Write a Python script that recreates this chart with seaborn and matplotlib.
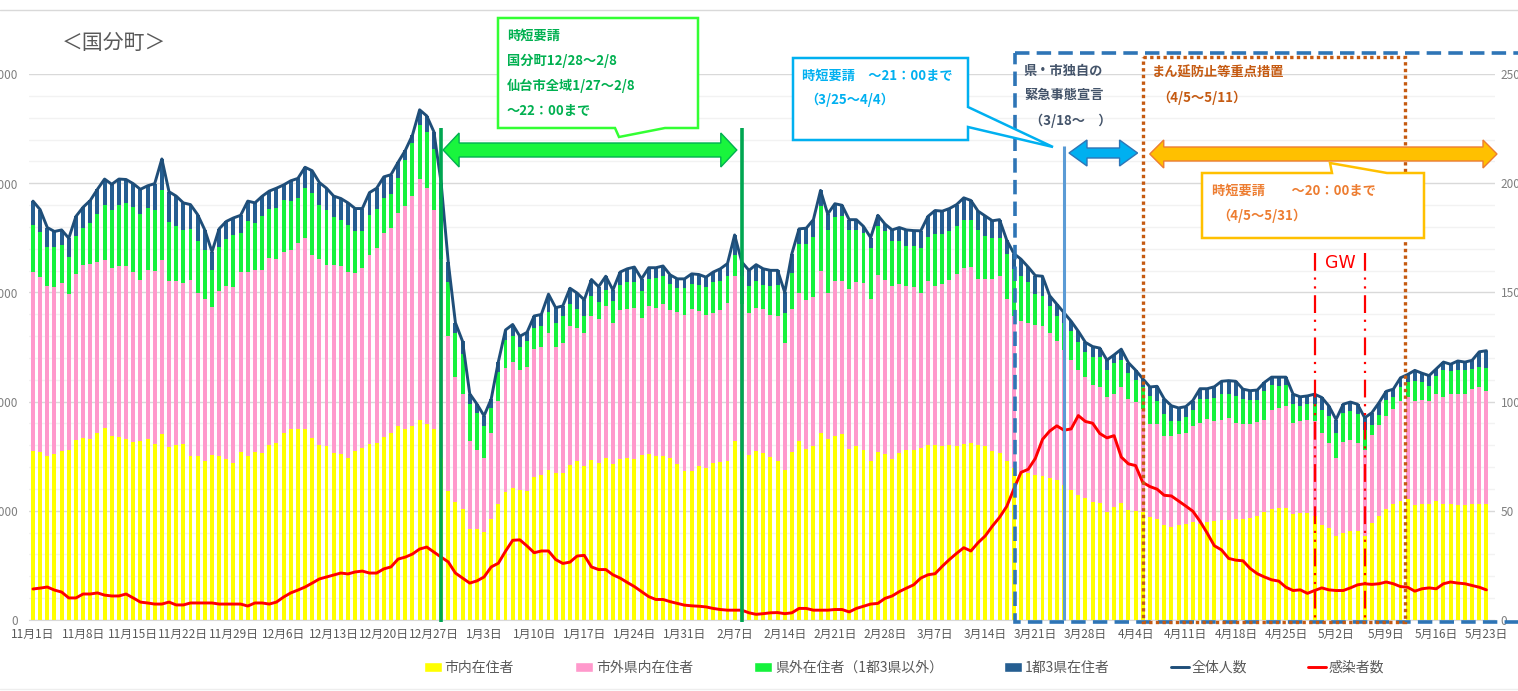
import numpy as np
import pandas as pd
import matplotlib
matplotlib.use("Agg")
import matplotlib.pyplot as plt
import seaborn as sns
from matplotlib.patches import Polygon, Rectangle, Patch
from matplotlib.lines import Line2D

# 日別データ 2020/11/1 ~ 2021/5/23
start_date = "2020-11-01"

# 市内在住者
city = [7760, 7690, 7490, 7600, 7720, 7800, 8220, 8340, 8270, 8580,
        8810, 8420, 8370, 8300, 8140, 8190, 8300, 8070, 8500, 7910,
        8000, 8070, 7490, 7490, 7260, 7540, 7490, 7380, 7180, 7690,
        7520, 7690, 7650, 8030, 8110, 8580, 8730, 8730, 8730, 8340,
        8000, 7960, 7650, 7600, 7410, 7720, 7880, 8070, 8110, 8370,
        8580, 8890, 8730, 8890, 9150, 8990, 8730, 7400, 5900, 5400,
        5090, 4160, 4160, 4010, 4630, 5330, 5880, 6030, 5940, 5900,
        6560, 6640, 6870, 6720, 6720, 7110, 7260, 7030, 7340, 7180,
        7410, 7140, 7370, 7410, 7380, 7570, 7600, 7490, 7490, 7410,
        7140, 6800, 6830, 7030, 6950, 7180, 7230, 7260, 8190, 7720,
        7540, 7760, 7650, 7450, 7290, 6870, 7690, 8190, 7850, 7960,
        8580, 8270, 8420, 8500, 7850, 7960, 7800, 7260, 7690, 7600,
        7380, 7650, 7800, 7800, 7880, 8000, 8000, 7960, 8030, 7960,
        8070, 8110, 8030, 7950, 7740, 7660, 7280, 6970, 6740, 6740,
        6660, 6580, 6500, 6420, 6190, 5960, 5730, 5570, 5420, 5340,
        4950, 5190, 5340, 5030, 5000, 4950, 4720, 4640, 4330, 4260,
        4330, 4410, 4490, 4410, 4490, 4530, 4570, 4600, 4640, 4640,
        4680, 4760, 4950, 5070, 5150, 5150, 4840, 4880, 4880, 4760,
        4370, 4220, 3830, 3980, 4060, 4060, 3830, 4450, 4760, 5070,
        5300, 5460, 5530, 5260, 5300, 5300, 5460, 5300, 5300, 5260,
        5260, 5300, 5300, 5300]

# 市外県内在住者
pref = [8170, 8010, 7820, 7660, 7710, 7120, 7630, 7900, 8050, 7810,
        7660, 7710, 7840, 7890, 7790, 7380, 7710, 7910, 7970, 7630,
        7510, 7360, 8080, 7460, 7430, 6810, 7560, 7930, 8080, 8240,
        8410, 8320, 8360, 8550, 8440, 8250, 8200, 8510, 8750, 8360,
        8550, 8280, 8590, 8610, 8520, 8180, 8230, 8630, 8930, 9340,
        9390, 9750, 10220, 10520, 11040, 10780, 10060, 9150, 7090, 5730,
        5270, 4030, 3640, 3400, 3950, 4720, 5650, 5800, 5500, 5690,
        5840, 5880, 6270, 5770, 5960, 6340, 6110, 6110, 6570, 6580,
        6970, 6470, 6820, 6850, 6920, 6270, 6780, 6810, 6970, 6780,
        6960, 7150, 7430, 7120, 7000, 6890, 6960, 7270, 7580, 6740,
        6500, 6540, 6610, 6500, 6630, 5810, 6540, 6780, 6810, 6810,
        7380, 6700, 7080, 7000, 7300, 7500, 7630, 7430, 8110, 7990,
        7930, 7740, 7480, 7430, 7090, 7510, 7310, 7440, 7560, 7860,
        8060, 8070, 7590, 7650, 7880, 8110, 7410, 6940, 6940, 6870,
        6870, 6870, 6640, 6340, 6180, 5940, 5710, 5560, 5320, 5330,
        5250, 5170, 5330, 5090, 4970, 4710, 4240, 4320, 4090, 4160,
        4170, 4160, 4400, 4630, 4710, 4600, 4610, 4660, 4380, 4340,
        4300, 4310, 4230, 4530, 4540, 4650, 4180, 4250, 4300, 4370,
        4190, 3870, 3600, 4190, 4190, 4030, 3950, 4030, 4190, 4260,
        4340, 4590, 4670, 4760, 4790, 4750, 4870, 4900, 5060, 5070,
        5070, 5270, 5350, 5170]

# 県外在住者（1都3県以外）
outside = [2140, 2060, 1780, 1800, 1740, 1690, 1750, 1730, 1850, 2220,
           2550, 2660, 2810, 2910, 2970, 3040, 2860, 2780, 3200, 2680,
           2540, 2430, 2320, 2420, 2240, 1660, 2010, 2140, 2370, 1780,
           2350, 2160, 2470, 2260, 2320, 2380, 2250, 2090, 2290, 2870,
           2440, 2550, 2200, 2120, 2170, 1890, 1710, 1860, 1800, 1620,
           1550, 1620, 2090, 2430, 2470, 2580, 2790, 2710, 2470, 2010,
           1840, 1700, 1700, 1480, 1120, 1320, 1290, 1160, 1050, 1170,
           970, 960, 960, 1120, 1240, 1010, 890, 780, 940, 810,
           740, 990, 1150, 1200, 1160, 1240, 1240, 1350, 1310, 1200,
           1090, 1240, 1130, 1190, 1280, 1390, 1350, 1210, 930, 1310,
           1240, 1240, 1080, 1330, 1420, 1390, 1670, 2230, 2540, 2780,
           2990, 2890, 2940, 2980, 2710, 2400, 2280, 2350, 2260, 2200,
           2040, 1960, 1860, 1910, 2070, 2040, 2350, 2260, 2230, 2200,
           2200, 2150, 2240, 2000, 1860, 1710, 2090, 2170, 2090, 1850,
           1390, 1400, 1240, 1160, 1240, 1320, 1310, 1120, 1320, 1390,
           1240, 1390, 1230, 1170, 1010, 1010, 1290, 1090, 1010, 700,
           620, 730, 710, 1080, 920, 1050, 1150, 1100, 1240, 1130,
           1080, 990, 1320, 1180, 1040, 980, 890, 670, 700, 750,
           1040, 1240, 1130, 1300, 1320, 1320, 900, 430, 430, 750,
           590, 600, 680, 940, 790, 680, 820, 1230, 1040, 1100,
           1100, 930, 930, 1080]

# 1都3県在住者
metro = [1110, 1030, 880, 730, 690, 870, 880, 930, 1040, 1110,
         1170, 1160, 1170, 1070, 1080, 1110, 1010, 1220, 1440, 1390,
         1360, 1240, 1130, 1190, 930, 850, 850, 800, 780, 820,
         900, 930, 920, 800, 900, 710, 930, 890, 960, 1000,
         1040, 980, 970, 970, 1000, 1050, 1020, 1010, 930, 960,
         870, 700, 460, 360, 700, 730, 770, 770, 930, 470,
         560, 470, 390, 460, 420, 460, 460, 540, 500, 410,
         550, 510, 820, 690, 460, 730, 710, 740, 740, 690,
         620, 510, 590, 620, 700, 540, 510, 480, 440, 410,
         430, 430, 460, 480, 470, 470, 540, 580, 930, 620,
         730, 730, 740, 730, 670, 930, 880, 710, 740, 780,
         720, 730, 620, 510, 470, 470, 310, 470, 470, 340,
         510, 620, 720, 690, 780, 930, 1090, 1060, 1020, 1000,
         1000, 880, 860, 900, 800, 850, 620, 700, 750, 700,
         850, 890, 470, 540, 460, 460, 470, 460, 460, 390,
         460, 390, 500, 490, 460, 380, 420, 650, 690, 690,
         590, 470, 450, 470, 470, 500, 600, 600, 670, 460,
         440, 470, 380, 340, 390, 340, 430, 420, 380, 460,
         590, 470, 620, 410, 410, 470, 580, 580, 570, 390,
         340, 440, 360, 470, 420, 460, 350, 380, 310, 430,
         380, 390, 700, 780]

# 感染者数（右軸）
infected = [14.2, 14.6, 15.1, 13.7, 12.8, 10.1, 10.1, 11.9, 11.9, 12.4,
            11.4, 11.0, 11.0, 11.9, 10.1, 8.2, 7.8, 7.3, 7.3, 8.2,
            6.9, 6.9, 7.8, 7.8, 7.8, 7.8, 7.3, 7.3, 7.3, 7.3,
            6.4, 7.8, 7.8, 7.3, 8.2, 10.5, 12.4, 13.7, 15.1, 16.9,
            18.8, 19.7, 20.6, 21.5, 21.1, 22.0, 22.4, 21.5, 21.5, 23.4,
            24.3, 27.9, 28.8, 30.2, 32.5, 33.4, 31.1, 28.8, 26.6, 21.5,
            19.2, 16.9, 17.9, 19.7, 24.3, 26.0, 31.5, 36.5, 36.7, 33.9,
            30.8, 31.6, 31.6, 27.7, 25.9, 26.5, 29.3, 29.6, 24.3, 23.1,
            23.1, 20.7, 19.2, 17.2, 15.3, 13.0, 10.7, 9.4, 9.4, 8.4,
            7.6, 6.8, 6.5, 6.3, 6.0, 5.3, 4.8, 4.5, 4.5, 4.5,
            3.3, 2.6, 2.9, 3.3, 3.4, 2.9, 3.3, 5.3, 5.3, 4.5,
            4.5, 4.5, 4.8, 4.8, 3.7, 5.3, 6.3, 7.3, 7.6, 9.9,
            11.0, 13.0, 14.6, 16.1, 19.2, 20.7, 21.2, 24.6, 27.7, 30.5,
            33.1, 31.6, 35.4, 38.5, 43.0, 47.0, 52.0, 60.0, 67.6, 69.0,
            74.0, 82.7, 86.5, 88.9, 86.9, 87.5, 93.6, 90.9, 90.1, 85.4,
            83.4, 84.4, 74.6, 71.5, 70.7, 63.0, 61.1, 59.9, 57.1, 56.8,
            54.5, 52.2, 49.8, 45.2, 39.8, 34.0, 32.1, 28.2, 27.4, 27.1,
            23.6, 21.2, 19.7, 18.4, 17.8, 15.0, 13.5, 13.8, 12.2, 13.5,
            14.7, 13.8, 13.5, 13.5, 14.7, 16.1, 16.6, 16.3, 16.6, 17.4,
            16.6, 15.3, 15.0, 13.2, 14.3, 14.7, 14.3, 16.6, 17.4, 16.9,
            16.6, 15.8, 15.0, 13.8]

series_labels = ["市内在住者", "市外県内在住者", "県外在住者（1都3県以外）", "1都3県在住者"]
line_labels = ["全体人数", "感染者数"]

C_YELLOW = "#ffff00"
C_PINK = "#ff99cc"
C_GREEN = "#15f23c"
C_NAVY = "#255e91"
C_LINE = "#1f4e79"
C_RED = "#ff0000"

dates = pd.date_range(start_date, periods=len(city))
days = np.arange(len(dates))
df = pd.DataFrame({"day": days, "city": city, "pref": pref,
                   "outside": outside, "metro": metro, "infected": infected})
df["lv1"] = df["city"]
df["lv2"] = df["lv1"] + df["pref"]
df["lv3"] = df["lv2"] + df["outside"]
df["total"] = df["lv3"] + df["metro"]


def day_of(s):
    return int(dates.get_loc(pd.Timestamp(s)))


sns.set_style("white")
plt.rcParams["font.family"] = ["Noto Sans CJK JP", "DejaVu Sans"]

W, H = 1518, 691
fig = plt.figure(figsize=(W / 100, H / 100), dpi=100)
ax = fig.add_axes([29.4 / W, 71 / H, (1495 - 29.4) / W, 546 / H])

# 積み上げ棒（累積値を上から重ねる）
for col, color in [("total", C_NAVY), ("lv3", C_GREEN), ("lv2", C_PINK), ("lv1", C_YELLOW)]:
    sns.barplot(data=df, x="day", y=col, color=color, width=0.55, saturation=1,
                errorbar=None, linewidth=0, ax=ax)

sns.lineplot(x=df["day"], y=df["total"], ax=ax, color=C_LINE, linewidth=2.1)
ax.lines[-1].set_solid_joinstyle("round")

ax2 = ax.twinx()
sns.lineplot(x=df["day"], y=df["infected"], ax=ax2, color=C_RED, linewidth=2.1)
ax2.lines[-1].set_solid_joinstyle("round")

ax.set_xlim(-0.5, 204.2)
ax.set_ylim(0, 25000)
ax2.set_ylim(0, 250)

ax.set_xticks(days[::7])
ax.set_xticklabels([f"{d.month}月{d.day}日" for d in dates[::7]], fontsize=8.5, color="#595959")
ax.set_xticks(np.arange(-0.5, len(days), 7), minor=True)
ax.tick_params(axis="x", which="major", length=0, pad=6)
ax.tick_params(axis="x", which="minor", length=4, color="#d9d9d9", width=1)

ax.set_yticks(np.arange(0, 25001, 5000))
ax.set_yticklabels([f"{v:,}" for v in range(0, 25001, 5000)], fontsize=8.5, color="#7f7f7f")
ax.set_yticks(np.arange(0, 25001, 1000), minor=True)
ax.tick_params(axis="y", which="both", length=0, pad=8)
ax.grid(axis="y", which="major", color="#d9d9d9", lw=1)
ax.grid(axis="y", which="minor", color="#f2f2f2", lw=1)
ax.set_axisbelow(True)

ax2.set_yticks(np.arange(0, 251, 50))
ax2.tick_params(axis="y", length=0, pad=4, labelsize=8.5, labelcolor="#7f7f7f")

for a in (ax, ax2):
    a.set_xlabel("")
    a.set_ylabel("")
    for s in ("top", "left", "right"):
        a.spines[s].set_visible(False)
ax.spines["bottom"].set_color("#d9d9d9")
ax2.spines["bottom"].set_visible(False)

# 注記用のオーバーレイ（ピクセル座標）
ov = fig.add_axes([0, 0, 1, 1], zorder=10)
ov.set_xlim(0, W)
ov.set_ylim(H, 0)
ov.axis("off")


def dx(d):
    return ax.transData.transform((d, 0))[0]


def block_arrow(x0, x1, y, shaft, head_h, head_l, fc, ec):
    pts = [(x0, y), (x0 + head_l, y - head_h / 2), (x0 + head_l, y - shaft / 2),
           (x1 - head_l, y - shaft / 2), (x1 - head_l, y - head_h / 2), (x1, y),
           (x1 - head_l, y + head_h / 2), (x1 - head_l, y + shaft / 2),
           (x0 + head_l, y + shaft / 2), (x0 + head_l, y + head_h / 2)]
    ov.add_patch(Polygon(pts, closed=True, fc=fc, ec=ec, lw=1, zorder=3))


ov.plot([0, W], [10, 10], color="#d9d9d9", lw=1)
ov.plot([0, W], [689, 689], color="#eeeeee", lw=1)
ov.text(62, 43, "＜国分町＞", fontsize=15, color="#595959", va="center")

# 時短要請（国分町 12/28～2/8）
for d in (day_of("2020-12-28"), day_of("2021-02-08")):
    ov.plot([dx(d)] * 2, [128, 622], color="#00a651", lw=2.6, solid_capstyle="butt", zorder=2)
block_arrow(dx(day_of("2020-12-28")) + 2, dx(day_of("2021-02-08")) - 5, 150, 14, 34, 16,
            "#19f53d", "#00b050")
ov.add_patch(Polygon([(498, 18), (698, 18), (698, 128), (665, 128), (619, 137), (615, 128),
                      (498, 128)], closed=True, fc="white", ec="#33ff33", lw=1.8, zorder=3))
for i, t in enumerate(["時短要請", "国分町12/28～2/8", "仙台市全域1/27～2/8", "～22：00まで"]):
    ov.text(507, 36 + i * 25, t, fontsize=9.5, fontweight="bold", color="#00b050",
            va="center", zorder=4)

# 県・市独自の緊急事態宣言
ov.add_patch(Rectangle((dx(day_of("2021-03-18")) + 1, 53), 520, 569, fill=False,
                       ec="#2e75b6", lw=2.6, ls=(0, (4, 2)), zorder=2))
for i, t in enumerate(["県・市独自の", "緊急事態宣言"]):
    ov.text(1024, 71 + i * 24, t, fontsize=9.5, fontweight="bold", color="#44546a",
            va="center", zorder=4)
ov.text(1030, 121, "（3/18～　）", fontsize=9.5, fontweight="bold", color="#44546a",
        va="center", zorder=4)

# 時短要請 ～21:00（3/25～4/4）
x325 = dx(day_of("2021-03-25"))
ov.plot([x325] * 2, [146, 620], color="#5b9bd5", lw=2.2, solid_capstyle="butt", zorder=2)
block_arrow(x325 + 5, dx(day_of("2021-04-04")) + 2, 153, 10, 26, 18, "#00b0f0", "#2e75b6")
ov.add_patch(Polygon([(793, 58), (968, 58), (968, 107), (1053, 147), (968, 127), (968, 140),
                      (793, 140)], closed=True, fc="white", ec="#00b0f0", lw=1.8, zorder=3))
ov.text(802, 76, "時短要請　～21：00まで", fontsize=9.5, fontweight="bold", color="#00b0f0",
        va="center", zorder=4)
ov.text(805, 100, "（3/25～4/4）", fontsize=9.5, fontweight="bold", color="#00b0f0",
        va="center", zorder=4)

# まん延防止等重点措置（4/5～5/11）
x405 = dx(day_of("2021-04-05"))
ov.add_patch(Rectangle((x405, 57), dx(day_of("2021-05-11")) + 5 - x405, 565, fill=False,
                       ec="#c55a11", lw=2.4, ls=(0, (1, 1)), zorder=2))
ov.text(1152, 73, "まん延防止等重点措置", fontsize=9.5, fontweight="bold", color="#c55a11",
        va="center", zorder=4)
ov.text(1157, 98, "（4/5～5/11）", fontsize=9.5, fontweight="bold", color="#c55a11",
        va="center", zorder=4)

# 時短要請 ～20:00（4/5～5/31）
block_arrow(x405 + 7, 1497, 154, 14, 28, 14, "#ffc000", "#ed7d31")
ov.add_patch(Polygon([(1202, 173), (1332, 173), (1330, 163), (1387, 173), (1424, 173),
                      (1424, 238), (1202, 238)], closed=True, fc="white", ec="#ffc000",
                     lw=1.8, zorder=3))
ov.text(1212, 191, "時短要請　　～20：00まで", fontsize=9.5, fontweight="bold", color="#ed7d31",
        va="center", zorder=4)
ov.text(1217, 216, "（4/5～5/31）", fontsize=9.5, fontweight="bold", color="#ed7d31",
        va="center", zorder=4)

# GW
for d in (day_of("2021-04-29"), day_of("2021-05-06")):
    ov.plot([dx(d)] * 2, [253, 620], color=C_RED, lw=1.6, ls=(0, (8, 3, 1, 3, 1, 3)), zorder=2)
ov.text(1340, 263, "GW", fontsize=12.5, color=C_RED, ha="center", va="center",
        family=["DejaVu Sans"], zorder=4)

# 凡例
handles = [Patch(fc=C_YELLOW), Patch(fc=C_PINK), Patch(fc=C_GREEN), Patch(fc=C_NAVY),
           Line2D([], [], color=C_LINE, lw=2.1), Line2D([], [], color=C_RED, lw=2.1)]
fig.legend(handles, series_labels + line_labels, loc="center", bbox_to_anchor=(904 / W, 1 - 668 / H),
           ncol=6, frameon=False, fontsize=10, handlelength=1.3, handleheight=0.7,
           handletextpad=0.2, columnspacing=4.4, labelcolor="#595959")

fig.savefig("out.png", dpi=100)
